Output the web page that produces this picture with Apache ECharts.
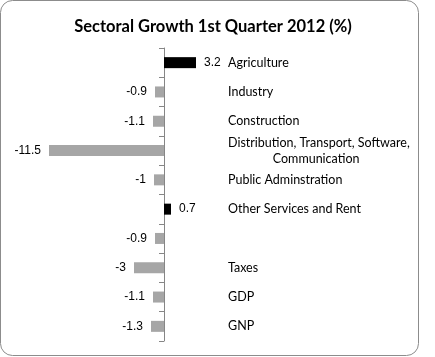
<!DOCTYPE html>
<html><head><meta charset="utf-8">
<script src="https://cdn.jsdelivr.net/npm/echarts@6/dist/echarts.min.js"></script>
<style>html,body{margin:0;padding:0;background:#fff}#c{width:435px;height:357px}</style>
</head><body><div id="c"></div>
<script>
const categories = ["Agriculture","Industry","Construction","Distribution, Transport, Software,\n              Communication","Public Adminstration","Other Services and Rent","","Taxes","GDP","GNP"];
const values = [3.2,-0.9,-1.1,-11.5,-1,0.7,-0.9,-3,-1.1,-1.3];
const titleText = "Sectoral Growth 1st Quarter 2012 (%)";

const chart = echarts.init(document.getElementById('c'));
chart.setOption({
  animation:false,
  graphic:[{type:'rect',shape:{x:0.5,y:0.5,width:418,height:355,r:12},style:{fill:'none',stroke:'#8c8c8c',lineWidth:1}}],
  title:{text:titleText,left:208,top:13,textAlign:'center',textStyle:{fontFamily:'Lato',fontWeight:'bold',fontSize:16.5,color:'#000'}},
  grid:{left:44,right:231,top:48,bottom:16},
  xAxis:{type:'value',min:-12,max:4,show:false},
  yAxis:[{type:'category',inverse:true,data:categories,
    axisLine:{onZero:true,lineStyle:{color:'#868686'}},
    axisTick:{show:true,length:5,lineStyle:{color:'#868686'}},
    axisLabel:{show:false}},
   {type:'category',inverse:true,data:categories,position:'right',
    axisLine:{show:false},axisTick:{show:false},
    axisLabel:{show:true,margin:24,align:'left',fontFamily:'Lato',fontSize:12.5,color:'#000',lineHeight:16}}],
  series:[{type:'bar',barWidth:11,yAxisIndex:0,
    data:values.map(v=>({value:v,itemStyle:{color:v>=0?'#000':'#a6a6a6'},
      label:{show:true,position:v>=0?'right':'left',distance:8,fontFamily:'Liberation Sans',fontSize:12,color:'#000'}}))}]
});
</script></body></html>
